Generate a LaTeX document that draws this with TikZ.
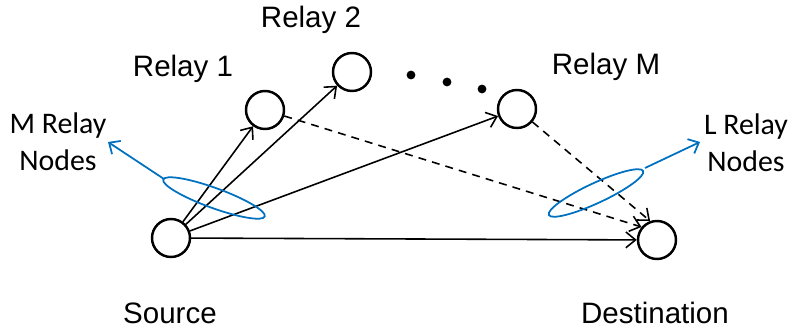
\documentclass[tikz,border=0pt]{standalone}
\usepackage{fontspec}
\setmainfont{Liberation Sans}
\newfontfamily\calib{Carlito}
\usetikzlibrary{arrows.meta}
\definecolor{noteblue}{RGB}{0,112,192}
\begin{document}
\begin{tikzpicture}[x=0.02cm,y=-0.02cm,
  station/.style={circle,draw=black,line width=1.4pt,minimum size=0.76cm,inner sep=0pt},
  link/.style={-{Straight Barb[length=5.5pt,width=9pt,line width=0.9pt]},line width=0.9pt},
  dlink/.style={link,dash pattern=on 4.5pt off 3.5pt},
  lbl/.style={font=\fontsize{16.8}{19}\selectfont,inner sep=0pt},
  note/.style={font=\calib\fontsize{17}{21}\selectfont,inner sep=0pt,align=center},
  group/.style={draw=noteblue,line width=1pt},
  pointer/.style={draw=noteblue,line width=1pt,-{Straight Barb[length=5pt,width=9pt,line width=1pt]}}]
\useasboundingbox (0,0) rectangle (791,333);

% stations
\node[station] (src) at (171,238) {};
\node[station] (dst) at (657,240) {};
\node[station] (r1) at (265,110) {};
\node[station] (r2) at (352,72) {};
\node[station] (rM) at (517,109) {};

% labels
\node[lbl] (lr1) at (183,69) {Relay 1};
\node[lbl] (lr2) at (311,20) {Relay 2};
\node[lbl] (lrM) at (606,67) {Relay M};
\node[lbl] (lsrc) at (170,313) {Source};
\node[lbl] (ldst) at (655,313) {Destination};

% dots between relays
\foreach \p/\q in {411/75,447/82,482/89}
  \fill (\p,\q) circle (4.4);

% links
\draw[link] (src) -- (r1);
\draw[link] (src) -- (r2);
\draw[link] (src) -- (rM);
\draw[link] (src) -- (dst);
\draw[dlink] (r1) -- (dst.140);
\draw[dlink] (rM) -- (dst.110);

% relay groups
\draw[group] (214,198) ellipse[x radius=54,y radius=10,rotate=-20];
\draw[group] (596,193) ellipse[x radius=52,y radius=10,rotate=25];
\coordinate (gl) at (164,179);
\coordinate (gr) at (645,168);
\node[note] (nl) at (58,142) {M Relay\\Nodes};
\node[note] (nr) at (746,143) {L Relay\\Nodes};
\draw[pointer] (gl) -- (108,142);
\draw[pointer] (gr) -- (700,142);
\end{tikzpicture}
\end{document}
